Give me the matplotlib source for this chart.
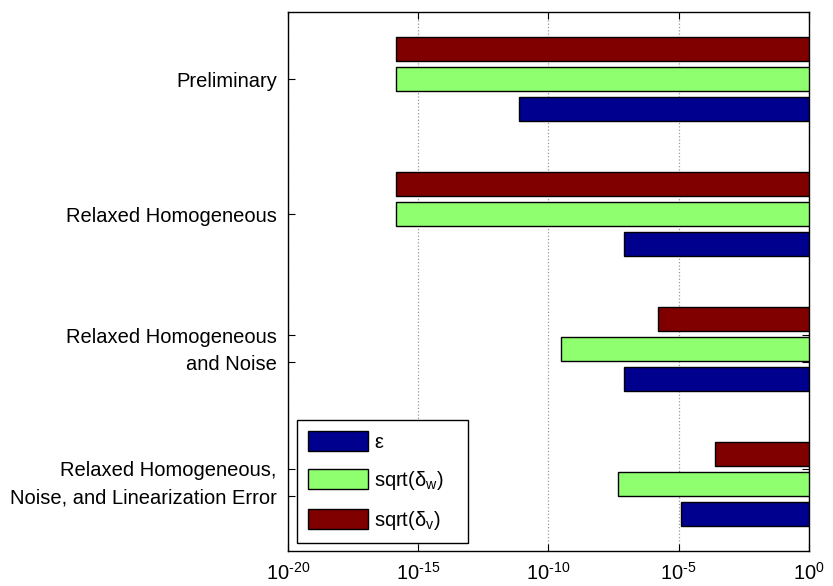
import numpy as np
import matplotlib
matplotlib.use('Agg')
import matplotlib.pyplot as plt
from matplotlib.ticker import FixedFormatter, NullLocator

plt.rcParams['font.family'] = ['Liberation Sans', 'DejaVu Sans']
plt.rcParams['mathtext.fontset'] = 'custom'
plt.rcParams['mathtext.rm'] = 'Liberation Sans'
plt.rcParams['mathtext.it'] = 'Liberation Sans:italic'

# groups, bottom to top
groups = [1, 2, 3, 4]
tick_pos = [0.91, 1.11, 1.9, 2.1, 3.0, 4.0]
tick_labels = ['Noise, and Linearization Error', 'Relaxed Homogeneous,',
               'and Noise', 'Relaxed Homogeneous',
               'Relaxed Homogeneous', 'Preliminary']
x_exps = [-20, -15, -10, -5, 0]

eps_vals = [1.17e-5, 7.8e-8, 7.8e-8, 7.4e-12]
dw_vals = [4.6e-8, 3.0e-10, 1.4e-16, 1.4e-16]
dv_vals = [2.4e-4, 1.66e-6, 1.4e-16, 1.4e-16]

series = [
    (eps_vals, '#00008F', 'ε'),
    (dw_vals, '#8FFF70', r'$\mathregular{sqrt(\delta_w)}$   '),
    (dv_vals, '#800000', r'$\mathregular{sqrt(\delta_v)}$   '),
]

fig = plt.figure(figsize=(8.33, 5.86), dpi=100)
ax = fig.add_axes([0.3457, 0.0597, 0.6255, 0.9198])
ax.set_xscale('log')

base = 1.0
offsets = [-0.2226, 0.0, 0.2226]
for (vals, col, lab), off in zip(series, offsets):
    v = np.array(vals)
    ax.barh(np.array(groups) + off, base - v, left=v, height=0.178,
            color=col, edgecolor='black', linewidth=1.0, label=lab, zorder=3)

ax.set_xlim(1e-20, 1)
ax.set_ylim(0.5, 4.5)
ax.set_xticks([10.0 ** e for e in x_exps])
ax.xaxis.set_major_formatter(FixedFormatter(
    [r'$\mathregular{10^{\text{-}%d}}$' % -e if e < 0 else r'$\mathregular{10^{0}}$'
     for e in x_exps]))
ax.xaxis.set_minor_locator(NullLocator())
ax.set_yticks(tick_pos)
ax.set_yticklabels(tick_labels)
ax.grid(axis='x', color='#999999', linestyle=':', linewidth=0.9, zorder=0)
ax.tick_params(direction='in', top=True, right=True, length=5, width=0.8,
               labelsize=14.5, pad=8)
for s in ax.spines.values():
    s.set_linewidth(1.0)

leg = ax.legend(loc='lower left', bbox_to_anchor=(0.017, 0.015), borderaxespad=0,
                fontsize=14.5, handlelength=3.0, handleheight=1.15,
                labelspacing=0.85, handletextpad=0.3, borderpad=0.55,
                fancybox=False, framealpha=1, edgecolor='black')
leg.get_frame().set_linewidth(1.0)

fig.savefig('out.png', dpi=100)
